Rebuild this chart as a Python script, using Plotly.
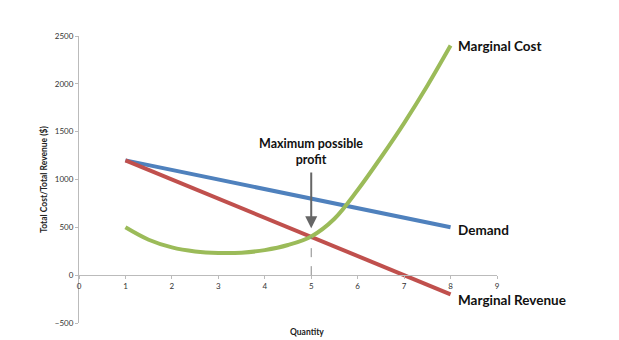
import plotly.graph_objects as go

# Data
demand_x = [1, 8]
demand_y = [1200, 500]
mr_x = [1, 8]
mr_y = [1200, -200]
mc_x = [1, 1.5, 2, 2.5, 3, 3.5, 4, 4.5, 5, 5.5, 6, 6.5, 7, 7.5, 8]
mc_y = [500, 370, 290, 248, 232, 235, 262, 315, 405, 590, 890, 1230, 1590, 1980, 2400]
x_ticks = list(range(0, 10))
y_ticks = [-500, 0, 500, 1000, 1500, 2000, 2500]
profit_q = 5
profit_v = 400

BLUE = "#4F81BD"
RED = "#C0504D"
GREEN = "#9BBB59"
FONT = "Lato"

fig = go.Figure()
fig.add_trace(go.Scatter(x=demand_x, y=demand_y, mode="lines",
                         line=dict(color=BLUE, width=4), showlegend=False))
fig.add_trace(go.Scatter(x=mr_x, y=mr_y, mode="lines",
                         line=dict(color=RED, width=4), showlegend=False))
fig.add_trace(go.Scatter(x=mc_x, y=mc_y, mode="lines",
                         line=dict(color=GREEN, width=4, shape="spline", smoothing=1),
                         showlegend=False))

# dashed vertical line at profit quantity
fig.add_shape(type="line", x0=profit_q, x1=profit_q, y0=0, y1=profit_v,
              xref="x", yref="y", line=dict(color="#888888", width=1, dash="dash"))

# arrow
fig.add_annotation(x=profit_q, y=490, ax=profit_q, ay=1090, xref="x", yref="y",
                   axref="x", ayref="y", text="", showarrow=True, arrowhead=2,
                   arrowsize=1.2, arrowwidth=2, arrowcolor="#666666")
fig.add_annotation(x=profit_q, y=1115, xref="x", yref="y", text="<b>Maximum possible<br>profit</b>",
                   showarrow=False, yanchor="bottom", xanchor="center",
                   font=dict(family=FONT, size=12.5, color="#111111"))

labels = [("Marginal Cost", demand_x[-1], mc_y[-1], 0),
          ("Demand", demand_x[-1], demand_y[-1], -3),
          ("Marginal Revenue", mr_x[-1], mr_y[-1], -6)]
for txt, lx, ly, ys in labels:
    fig.add_annotation(x=lx, y=ly, xref="x", yref="y", text="<b>" + txt + "</b>",
                       showarrow=False, xanchor="left", yanchor="middle", xshift=5, yshift=ys,
                       font=dict(family=FONT, size=13.5, color="#111111"))

# x-axis title at the bottom of the plot area
fig.add_annotation(x=4.9, y=0, xref="x", yref="paper", yshift=-9, text="<b>Quantity</b>",
                   showarrow=False, xanchor="center", yanchor="middle",
                   font=dict(family=FONT, size=8.5, color="#222222"))

fig.update_layout(
    width=619, height=340,
    margin=dict(l=79, r=122, t=36, b=15),
    paper_bgcolor="white", plot_bgcolor="white",
    font=dict(family=FONT, size=7.5, color="#333333"),
    xaxis=dict(range=[0, 9], tickvals=x_ticks, showgrid=False, zeroline=False,
               showline=True, linecolor="#BBBBBB", linewidth=1, ticks="outside",
               ticklen=3, tickcolor="#BBBBBB", anchor="free", position=500 / 3000,
               tickfont=dict(size=8, color="#333333")),
    yaxis=dict(range=[-500, 2500], tickvals=y_ticks, showgrid=False, zeroline=False,
               showline=True, linecolor="#BBBBBB", linewidth=1, ticks="outside",
               ticklen=3, tickcolor="#BBBBBB", tickfont=dict(size=8, color="#333333"),
               title=dict(text="<b>Total Cost/Total Revenue ($)</b>", standoff=5,
                          font=dict(size=8.5, color="#222222"))),
)

fig.write_html("out.html")
